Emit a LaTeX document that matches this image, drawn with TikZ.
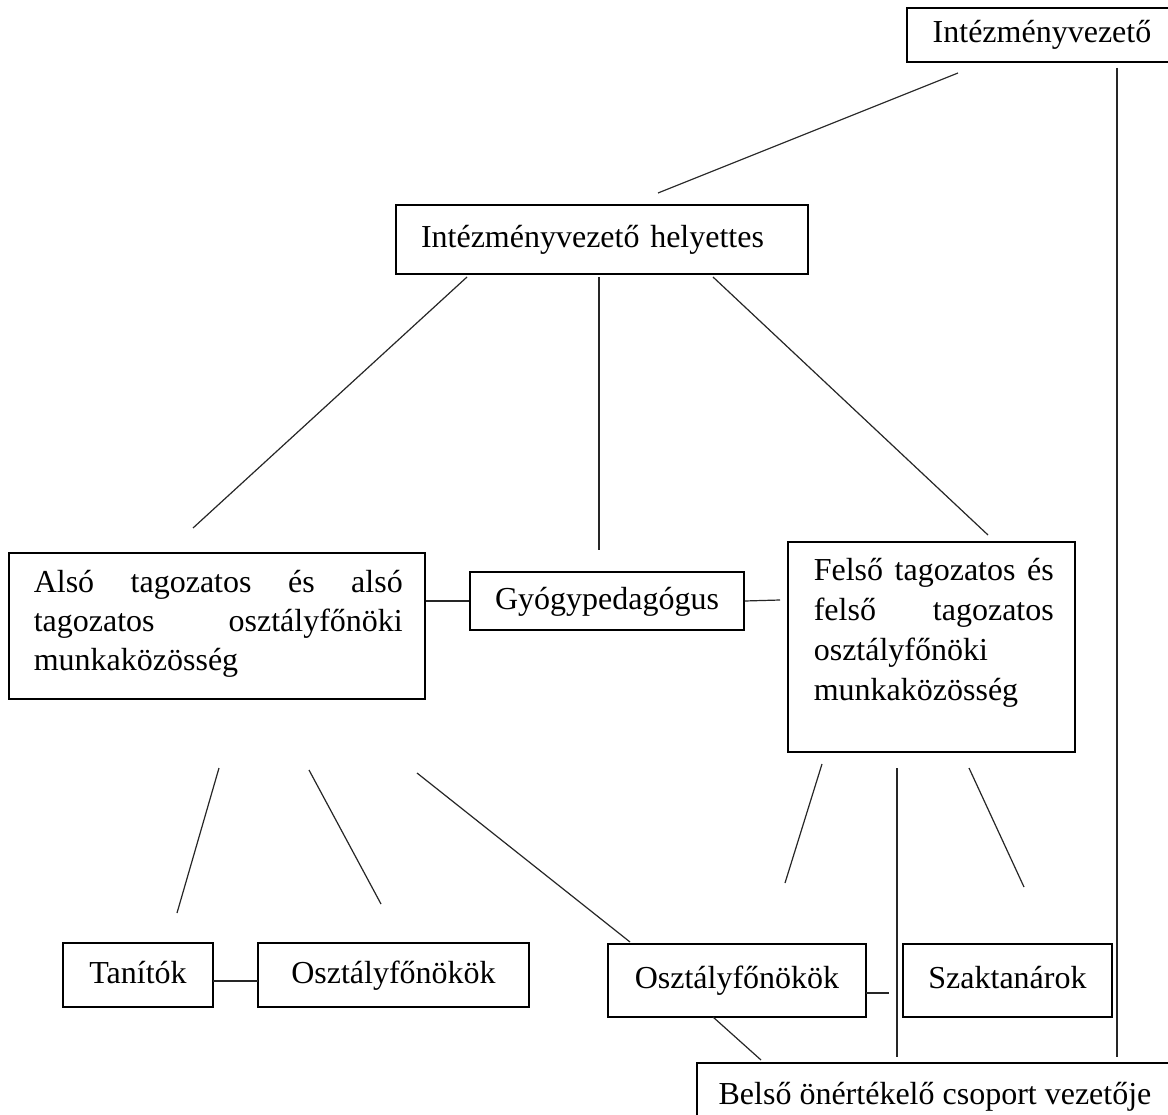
\documentclass[tikz,border=0pt]{standalone}
\usepackage{fontspec}
\setmainfont{Liberation Serif}
\begin{document}
\begin{tikzpicture}[x=1pt,y=-1pt,
  box/.style={draw=black,line width=1.6pt,rectangle,inner sep=0pt,
    font=\fontsize{32}{38}\selectfont},
  one/.style={box,text height=22pt,text depth=6pt},
  conn/.style={draw=black!85,line width=1.2pt}]
\useasboundingbox (0,0) rectangle (1168,1115);
\clip (0,0) rectangle (1168,1115);
\fill[white] (0,0) rectangle (1168,1115);

% boxes
\node[one,minimum width=270pt,minimum height=54pt] (iv) at (1042,35) {Intézményvezető};
\node[one,minimum height=69pt,text width=362pt,align=left,inner xsep=25pt] (ivh) at (602,239.5) {Intézményvezető helyettes};
\node[box,anchor=north west] (also) at (8,552)
  {\parbox[c][146pt][t]{416pt}{\fontsize{32}{39}\selectfont
   \hspace*{25pt}\rule{0pt}{40pt}\makebox[369pt][s]{Alsó tagozatos és alsó}\\
   \hspace*{25pt}\makebox[369pt][s]{tagozatos osztályfőnöki}\\
   \hspace*{25pt}munkaközösség}};
\node[one,minimum width=274pt,minimum height=58pt] (gyogy) at (607,601) {Gyógypedagógus};
\node[box,anchor=north west] (felso) at (787,541)
  {\parbox[c][210pt][t]{287pt}{\fontsize{32}{40}\selectfont
   \hspace*{26pt}\rule{0pt}{39pt}\makebox[240pt][s]{Felső tagozatos és}\\
   \hspace*{26pt}\makebox[240pt][s]{felső tagozatos}\\
   \hspace*{26pt}osztályfőnöki\\
   \hspace*{26pt}munkaközösség}};
\node[one,minimum width=150pt,minimum height=64pt] (tanitok) at (138,975) {Tanítók};
\node[one,minimum width=271pt,minimum height=64pt] (ofl) at (393.5,975) {Osztályfőnökök};
\node[one,minimum width=258pt,minimum height=73pt] (ofr) at (737,980.5) {Osztályfőnökök};
\node[one,minimum width=209pt,minimum height=73pt] (szak) at (1007.5,980.5) {Szaktanárok};
\node[one,minimum width=476pt,minimum height=66pt] (belso) at (935,1096) {Belső önértékelő csoport vezetője};

% free ends of connectors
\coordinate (a1) at (958,73);   \coordinate (a2) at (658,193);
\coordinate (v1) at (1117,68);  \coordinate (v2) at (1117,1057);
\coordinate (b1) at (467,277);  \coordinate (b2) at (193,528);
\coordinate (c1) at (599,277);  \coordinate (c2) at (599,550);
\coordinate (d1) at (713,277);  \coordinate (d2) at (988,535);
\coordinate (g1) at (780,600);
\coordinate (e1) at (219,768);  \coordinate (e2) at (177,913);
\coordinate (f1) at (309,770);  \coordinate (f2) at (381,904);
\coordinate (h1) at (417,773);  \coordinate (h2) at (630,942);
\coordinate (i1) at (822,764);  \coordinate (i2) at (785,883);
\coordinate (j1) at (897,768);  \coordinate (j2) at (897,1057);
\coordinate (k1) at (969,768);  \coordinate (k2) at (1024,887);
\coordinate (t1) at (213,981);  \coordinate (t2) at (258,981);
\coordinate (o1) at (866,993);  \coordinate (o2) at (889,993);
\coordinate (p1) at (713,1017); \coordinate (p2) at (761,1060);

% connectors
\draw[conn] (a1) -- (a2);
\draw[conn] (v1) -- (v2);
\draw[conn] (b1) -- (b2);
\draw[conn] (c1) -- (c2);
\draw[conn] (d1) -- (d2);
\draw[conn] (gyogy.west -| also.east) -- (gyogy.west);
\draw[conn] (gyogy.east) -- (g1);
\draw[conn] (e1) -- (e2);
\draw[conn] (f1) -- (f2);
\draw[conn] (h1) -- (h2);
\draw[conn] (i1) -- (i2);
\draw[conn] (j1) -- (j2);
\draw[conn] (k1) -- (k2);
\draw[conn] (t1) -- (t2);
\draw[conn] (o1) -- (o2);
\draw[conn] (p1) -- (p2);
\end{tikzpicture}
\end{document}
